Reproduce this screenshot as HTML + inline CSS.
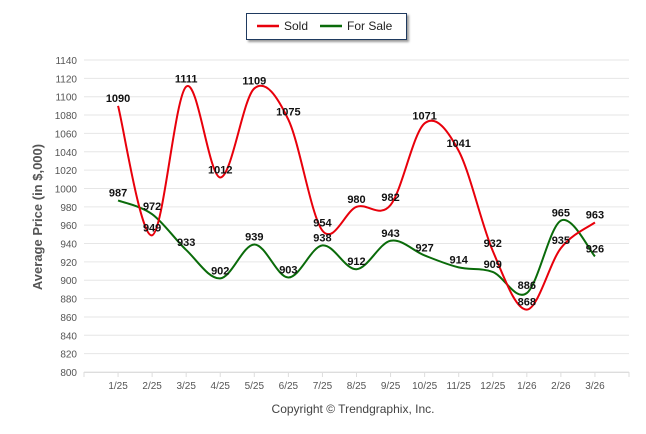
<!DOCTYPE html>
<html><head><meta charset="utf-8"><style>
body{margin:0;background:#fff;}
svg{display:block;font-family:"Liberation Sans",sans-serif;}
</style></head><body>
<svg id="chart" width="646" height="434">
<g id="grid"></g><g id="series"></g><g id="labels"></g>
<g>
<rect x="246.5" y="13.5" width="160" height="26" fill="#fff" stroke="#1f3a5f" stroke-width="1" style="filter:drop-shadow(2px 2px 1px #999)"/>
<line x1="257" y1="26" x2="279" y2="26" stroke="#e8000b" stroke-width="2.5"/>
<text x="284" y="30" font-size="12" fill="#222">Sold</text>
<line x1="320" y1="26" x2="342" y2="26" stroke="#0a6b0a" stroke-width="2.5"/>
<text x="347" y="30" font-size="12" fill="#222">For Sale</text>
</g>
<text transform="translate(42,217) rotate(-90)" text-anchor="middle" font-size="13" font-weight="bold" fill="#555">Average Price (in $,000)</text>
<text x="353" y="413" text-anchor="middle" font-size="12" fill="#444">Copyright © Trendgraphix, Inc.</text>
</svg>
<script>
const categories=["1/25","2/25","3/25","4/25","5/25","6/25","7/25","8/25","9/25","10/25","11/25","12/25","1/26","2/26","3/26"];
const soldValues=[1090,949,1111,1012,1109,1075,954,980,982,1071,1041,932,868,935,963];
const forSaleValues=[987,972,933,902,939,903,938,912,943,927,914,909,886,965,926];
const yTicks=[800,820,840,860,880,900,920,940,960,980,1000,1020,1040,1060,1080,1100,1120,1140];
const NS="http://www.w3.org/2000/svg";
const L=84,R=629,T=60,B=372,yMin=800,yMax=1140;
const step=(R-L)/16;
function x(i){return L+step*(i+1);}
function y(v){return B-(v-yMin)*(B-T)/(yMax-yMin);}
function mk(tag,attrs,parent){const e=document.createElementNS(NS,tag);for(const k in attrs)e.setAttribute(k,attrs[k]);parent.appendChild(e);return e;}
const grid=document.getElementById('grid'),ser=document.getElementById('series'),lab=document.getElementById('labels');
yTicks.forEach(v=>{
 const l=mk('line',{x1:L,x2:R,y1:y(v),y2:y(v),stroke:'#e6e6e6','stroke-width':1},grid);
 
 
 const t=mk('text',{x:L-7,y:y(v)+4,'text-anchor':'end','font-size':10,fill:'#555'},grid);
 t.textContent=v;
 
 
});
mk('line',{x1:L,x2:R,y1:B+0.5,y2:B+0.5,stroke:'#ddd'},grid);
for(let i=0;i<=16;i++){mk('line',{x1:L+step*i,x2:L+step*i,y1:B,y2:B+5,stroke:'#ddd'},grid);}
categories.forEach((c,i)=>{
 const t=mk('text',{x:x(i),y:B+17,'text-anchor':'middle','font-size':10,fill:'#555'},grid);
 t.textContent=c;
 
 
});
function path(vals){
 const p=vals.map((v,i)=>[x(i),y(v)]);
 let d='M'+p[0][0]+','+p[0][1];
 for(let i=0;i<p.length-1;i++){
  const p0=p[i-1]||p[i],p1=p[i],p2=p[i+1],p3=p[i+2]||p[i+1];
  const c1=[p1[0]+(p2[0]-p0[0])/6,p1[1]+(p2[1]-p0[1])/6];
  const c2=[p2[0]-(p3[0]-p1[0])/6,p2[1]-(p3[1]-p1[1])/6];
  d+=' C'+c1+' '+c2+' '+p2;
 }
 return d;
}
const fs=mk('path',{d:path(forSaleValues),fill:'none',stroke:'#0a6b0a','stroke-width':2},ser);


const sd=mk('path',{d:path(soldValues),fill:'none',stroke:'#e8000b','stroke-width':2},ser);


function labels(vals,name){
 vals.forEach((v,i)=>{
  const t=mk('text',{x:x(i),y:y(v)-4,'text-anchor':'middle','font-size':11,'font-weight':'bold',fill:'#111'},lab);
  t.textContent=v;
  
  
 });
}
labels(soldValues,'sold');
labels(forSaleValues,'for-sale');
</script>
</body></html>
